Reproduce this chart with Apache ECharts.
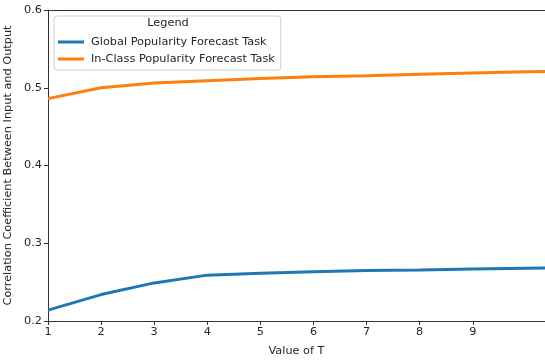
<!DOCTYPE html>
<html><head><meta charset="utf-8">
<script src="https://cdn.jsdelivr.net/npm/echarts@6/dist/echarts.min.js"></script>
<style>html,body{margin:0;padding:0;background:#fff}#c{width:545px;height:360px}</style>
</head><body><div id="c"></div>
<script>
const tValues = [1, 2, 3, 4, 5, 6, 7, 8, 9, 10, 11];
const globalTask = [0.214, 0.234, 0.249, 0.259, 0.2615, 0.2635, 0.265, 0.2655, 0.267, 0.268, 0.2685];
const inClassTask = [0.486, 0.500, 0.506, 0.509, 0.512, 0.514, 0.5155, 0.5175, 0.519, 0.5205, 0.5215];
const xTicks = [1, 2, 3, 4, 5, 6, 7, 8, 9];
const yTicks = [0.2, 0.3, 0.4, 0.5, 0.6];
const seriesNames = ['Global Popularity Forecast Task', 'In-Class Popularity Forecast Task'];

const font = 'DejaVu Sans';
const fs = 11.3;
const txt = '#262626';
const chart = echarts.init(document.getElementById('c'));
chart.setOption({
  animation: false,
  textStyle: {fontFamily: font},
  grid: {left: 48, top: 10, right: 0, bottom: 39, outerBoundsMode: 'none', containLabel: false},
  title: {
    text: 'Legend', left: 168, top: 18, textAlign: 'center', padding: 0,
    textStyle: {fontFamily: font, fontSize: fs, fontWeight: 'normal', color: txt}
  },
  legend: {
    orient: 'vertical', left: 54, top: 16,
    padding: [19, 6, 4, 4],
    borderColor: '#d0d0d0', borderWidth: 1, borderRadius: 3,
    itemWidth: 26, itemHeight: 3, itemGap: 3,
    icon: 'rect',
    textStyle: {fontFamily: font, fontSize: fs, color: txt, lineHeight: 14, padding: [0, 0, 0, 2]},
    data: seriesNames
  },
  xAxis: [{
    type: 'value', min: 1, max: 10.36, interval: 1,
    name: 'Value of T', nameLocation: 'middle', nameGap: 25,
    nameTextStyle: {fontFamily: font, fontSize: fs, color: txt},
    axisLine: {show: true, lineStyle: {color: '#333', width: 1}},
    axisTick: {show: true, inside: false, length: 4, lineStyle: {color: '#333'}, customValues: xTicks},
    axisLabel: {fontFamily: font, fontSize: fs, color: txt, margin: 6, customValues: xTicks},
    splitLine: {show: false}
  }, {
    type: 'value', position: 'top', min: 1, max: 10.36,
    axisLine: {show: true, onZero: false, lineStyle: {color: '#333', width: 1}},
    axisTick: {show: false}, axisLabel: {show: false}, splitLine: {show: false}
  }],
  yAxis: {
    type: 'value', min: 0.2, max: 0.6, interval: 0.1,
    name: 'Correlation Coefficient Between Input and Output',
    nameLocation: 'middle', nameGap: 26,
    nameTextStyle: {fontFamily: font, fontSize: fs, color: txt},
    axisLine: {show: true, lineStyle: {color: '#333', width: 1}},
    axisTick: {show: true, inside: false, length: 4, lineStyle: {color: '#333'}},
    axisLabel: {fontFamily: font, fontSize: fs, color: txt, margin: 6,
      customValues: yTicks, formatter: v => v.toFixed(1)},
    splitLine: {show: false}
  },
  series: [{
    name: seriesNames[0], type: 'line', showSymbol: false, clip: true,
    data: tValues.map((t, i) => [t, globalTask[i]]),
    lineStyle: {color: '#1f77b4', width: 3}, itemStyle: {color: '#1f77b4'}
  }, {
    name: seriesNames[1], type: 'line', showSymbol: false, clip: true,
    data: tValues.map((t, i) => [t, inClassTask[i]]),
    lineStyle: {color: '#ff7f0e', width: 3}, itemStyle: {color: '#ff7f0e'}
  }]
});
</script></body></html>
